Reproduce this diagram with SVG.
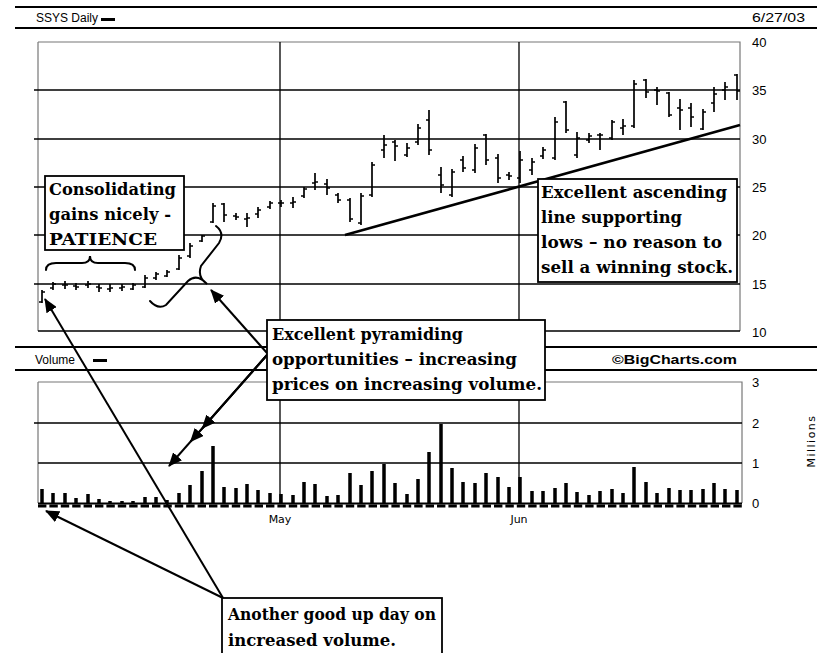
<svg xmlns="http://www.w3.org/2000/svg" width="817" height="653" viewBox="0 0 817 653">
<defs>
<marker id="ah" markerUnits="userSpaceOnUse" markerWidth="14" markerHeight="12" refX="13" refY="6" orient="auto">
<path d="M0,0 L14,6 L0,12 z" fill="#000"/>
</marker>
</defs>
<style>
.band{stroke:#000;stroke-width:2;fill:none}
.frame{stroke:#777;stroke-width:1.2;fill:none}
.grid{stroke:#000;stroke-width:1.3;fill:none}
.bars{stroke:#000;stroke-width:1.7;fill:none}
.vol{stroke:#000;stroke-width:3.5;fill:none}
.lab{font-family:"Liberation Sans",Arial,sans-serif;font-size:13px;fill:#000}
.hdr{font-family:"Liberation Sans",Arial,sans-serif;font-size:12px;fill:#000}
.mon{font-family:"DejaVu Sans",sans-serif;font-size:11px;fill:#000}
.box{fill:#fff;stroke:#000;stroke-width:1.8}
.note{font-family:"DejaVu Serif","Liberation Serif",serif;font-weight:bold;font-size:17px;fill:#000}
.arrow{stroke:#000;stroke-width:2;fill:none}
.brace{stroke:#000;stroke-width:2;fill:none;stroke-linecap:round}
</style>
<rect width="817" height="653" fill="#fff"/>

<!-- header band -->
<g id="header">
<line class="band" x1="15" y1="7" x2="817" y2="7"/>
<line class="band" x1="15" y1="28" x2="817" y2="28"/>
<text class="hdr" x="36" y="22">SSYS Daily</text>
<rect x="101" y="18" width="14" height="3" fill="#000"/>
<text class="hdr" x="752" y="22" textLength="53" lengthAdjust="spacingAndGlyphs">6/27/03</text>
</g>

<!-- price chart -->
<g id="price-chart">
<path class="frame" d="M38,42 H740 V331 M38,42 V331"/>
<path class="grid" d="M38,90 H740 M38,139 H740 M38,187 H740 M38,235 H740 M38,284 H740 M38,331 H740 M280,42 V331 M519,42 V331"/>
<path class="grid" d="M34,90 H38 M34,139 H38 M34,187 H38 M34,235 H38 M34,284 H38"/>
<text class="lab" x="752" y="47">40</text>
<text class="lab" x="752" y="95">35</text>
<text class="lab" x="752" y="144">30</text>
<text class="lab" x="752" y="192">25</text>
<text class="lab" x="752" y="240">20</text>
<text class="lab" x="752" y="289">15</text>
<text class="lab" x="752" y="337">10</text>
<path class="bars" d="
M42,290V303M39,302H42M42,292H45
M53,282V290M50,288H53M53,284H56
M65,281V289M62,285H65M65,285H68
M76,283V290M73,286H76M76,287H79
M88,281V288M85,285H88M88,284H91
M99,284V292M96,287H99M99,288H102
M110,284V292M107,289H110M110,288H113
M122,284V291M119,288H122M122,287H125
M133,283V290M130,289H133M133,285H136
M145,275V288M142,287H145M145,278H148
M156,272V280M153,278H156M156,274H159
M167,270V277M164,276H167M167,272H170
M179,255V270M176,269H179M179,258H182
M190,243V258M187,256H190M190,246H193
M202,235V242M199,241H202M202,236H205
M213,203V223M210,222H213M213,206H216
M224,203V222M221,204H224M224,215H227
M236,213V220M233,216H236M236,217H239
M247,213V227M244,219H247M247,218H250
M258,207V218M255,214H258M258,210H261
M270,201V209M267,207H270M270,203H273
M281,200V207M278,203H281M281,203H284
M293,197V208M290,203H293M293,202H296
M304,187V198M301,196H304M304,189H307
M315,173V190M312,183H315M315,182H318
M327,179V195M324,184H327M327,188H330
M338,193V203M335,195H338M338,200H341
M350,198V222M347,200H350M350,219H353
M361,193V225M358,223H361M361,196H364
M372,162V197M369,195H372M372,165H375
M384,135V158M381,150H384M384,145H387
M395,140V161M392,142H395M395,146H398
M407,143V157M404,155H407M407,148H410
M418,124V145M415,142H418M418,128H421
M429,110V155M426,120H429M429,150H432
M441,167V193M438,175H441M441,185H444
M452,169V197M449,195H452M452,172H455
M463,156V172M460,160H463M463,168H466
M475,144V173M472,170H475M475,148H478
M486,134V165M483,135H486M486,160H489
M498,154V183M495,158H498M498,178H501
M509,172V180M506,175H509M509,176H512
M520,151V183M517,178H520M520,160H523
M532,158V175M529,170H532M532,162H535
M543,147V159M540,156H543M543,150H546
M555,117V160M552,158H555M555,122H558
M566,101V133M563,102H566M566,130H569
M577,132V158M574,155H577M577,138H580
M589,133V143M586,140H589M589,136H592
M600,133V150M597,135H600M600,135H603
M612,120V140M609,138H612M612,122H615
M623,119V135M620,128H623M623,126H626
M634,80V128M631,126H634M634,84H637
M646,79V98M643,80H646M646,92H649
M657,87V105M654,90H657M657,91H660
M669,92V117M666,93H669M669,115H672
M680,99V130M677,108H680M680,110H683
M691,103V127M688,108H691M691,117H694
M703,109V130M700,129H703M703,112H706
M714,87V112M711,103H714M714,94H717
M725,82V100M722,90H725M725,87H728
M737,74V100M734,75H737M737,91H740"/>
<line x1="345" y1="235" x2="740" y2="125" stroke="#000" stroke-width="2.6"/>
</g>

<!-- volume band -->
<g id="volume-header">
<line class="band" x1="15" y1="347" x2="817" y2="347"/>
<line class="band" x1="15" y1="370" x2="817" y2="370"/>
<text class="hdr" x="35" y="364">Volume</text>
<rect x="93" y="359" width="14" height="3" fill="#000"/>
<text class="hdr" x="612" y="364" font-weight="bold" textLength="125" lengthAdjust="spacingAndGlyphs">©BigCharts.com</text>
</g>

<!-- volume chart -->
<g id="volume-chart">
<path class="frame" d="M38,382 H742 V503 M38,382 V503"/>
<path class="grid" d="M38,423 H742 M38,463 H742 M280,382 V503 M519,382 V503 M34,423 H38"/>
<text class="lab" x="752" y="387">3</text>
<text class="lab" x="752" y="428">2</text>
<text class="lab" x="752" y="468">1</text>
<text class="lab" x="752" y="508">0</text>
<text class="mon" x="0" y="0" transform="translate(815,441) rotate(-90)" text-anchor="middle" font-size="10" letter-spacing="1.5">Millions</text>
<path class="vol" d="
M42,503v-14 M53,503v-10 M65,503v-10 M76,503v-5 M88,503v-9 M99,503v-4 M110,503v-2 M122,503v-2 M133,503v-2 M145,503v-6
M156,503v-6 M167,503v-3 M179,503v-10 M190,503v-18 M202,503v-32 M213,503v-57 M224,503v-16 M236,503v-15 M247,503v-19 M258,503v-13
M270,503v-10 M281,503v-9 M293,503v-8 M304,503v-21 M315,503v-19 M327,503v-7 M338,503v-8 M350,503v-30 M361,503v-18 M372,503v-32
M384,503v-39 M395,503v-20 M407,503v-9 M418,503v-24 M429,503v-51 M441,503v-79 M452,503v-35 M463,503v-21 M475,503v-20 M486,503v-30
M498,503v-26 M509,503v-16 M520,503v-26 M532,503v-12 M543,503v-12 M555,503v-15 M566,503v-20 M577,503v-11 M589,503v-8 M600,503v-12
M612,503v-14 M623,503v-10 M634,503v-36 M646,503v-21 M657,503v-10 M669,503v-15 M680,503v-13 M691,503v-13 M703,503v-14 M714,503v-20
M725,503v-14 M737,503v-13"/>
<line x1="38" y1="503.5" x2="742" y2="503.5" stroke="#000" stroke-width="2.2"/>
<line x1="38" y1="506" x2="742" y2="506" stroke="#000" stroke-width="3" stroke-dasharray="8.4 3"/>
<text class="mon" x="280" y="523" text-anchor="middle">May</text>
<text class="mon" x="519" y="523" text-anchor="middle">Jun</text>
</g>

<!-- braces -->
<g id="brace-consolidation">
<path class="brace" d="M46,270 Q46,263 56,263 L82,263 Q90,263 90,256 Q90,263 98,263 L125,263 Q135,263 135,270"/>
</g>
<g id="brace-breakout">
<path class="brace" d="M150,301 Q158,310 166,305 L188,281 Q197,273 207,284 Q197,277 201,266 L219,243 Q225,233 216,226"/>
</g>

<!-- connectors -->
<g id="connectors">
<line class="arrow" x1="267" y1="353" x2="211" y2="290" marker-end="url(#ah)"/>
<line class="arrow" x1="267" y1="355" x2="202.3" y2="428.3" marker-end="url(#ah)"/>
<line class="arrow" x1="267" y1="355" x2="190.6" y2="441.6" marker-end="url(#ah)"/>
<line class="arrow" x1="267" y1="355" x2="169" y2="466" marker-end="url(#ah)"/>
<line class="arrow" x1="223" y1="598" x2="45" y2="299" marker-end="url(#ah)"/>
<line class="arrow" x1="223" y1="598" x2="46" y2="511" marker-end="url(#ah)"/>
</g>

<!-- annotation nodes -->
<g id="note-consolidating">
<rect class="box" x="45" y="176" width="139" height="74"/>
<text class="note" x="49" y="195" textLength="127" lengthAdjust="spacingAndGlyphs">Consolidating</text>
<text class="note" x="49" y="220" textLength="122" lengthAdjust="spacingAndGlyphs">gains nicely -</text>
<text class="note" x="49" y="245" textLength="108" lengthAdjust="spacingAndGlyphs">PATIENCE</text>
</g>
<g id="note-ascending">
<rect class="box" x="538" y="179" width="199" height="103"/>
<text class="note" x="541" y="198" textLength="186" lengthAdjust="spacingAndGlyphs">Excellent ascending</text>
<text class="note" x="541" y="223" textLength="141" lengthAdjust="spacingAndGlyphs">line supporting</text>
<text class="note" x="541" y="248" textLength="181" lengthAdjust="spacingAndGlyphs">lows – no reason to</text>
<text class="note" x="541" y="273" textLength="192" lengthAdjust="spacingAndGlyphs">sell a winning stock.</text>
</g>
<g id="note-pyramiding">
<rect class="box" x="267" y="320" width="278" height="80"/>
<text class="note" x="272" y="340" textLength="191" lengthAdjust="spacingAndGlyphs">Excellent pyramiding</text>
<text class="note" x="272" y="365" textLength="245" lengthAdjust="spacingAndGlyphs">opportunities – increasing</text>
<text class="note" x="272" y="390" textLength="270" lengthAdjust="spacingAndGlyphs">prices on increasing volume.</text>
</g>
<g id="note-upday">
<rect class="box" x="222" y="598" width="220" height="62"/>
<text class="note" x="228" y="620" textLength="208" lengthAdjust="spacingAndGlyphs">Another good up day on</text>
<text class="note" x="228" y="646" textLength="168" lengthAdjust="spacingAndGlyphs">increased volume.</text>
</g>
</svg>
